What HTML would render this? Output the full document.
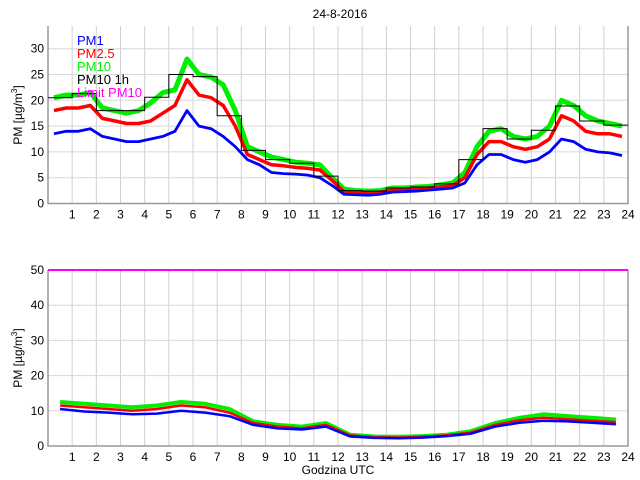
<!DOCTYPE html>
<html><head><meta charset="utf-8"><style>
body{margin:0;background:#fff;}
svg{display:block;font-family:"Liberation Sans",sans-serif;}
</style></head><body>
<svg id="c" width="640" height="480">
<text x="340" y="18" text-anchor="middle" font-size="12">24-8-2016</text>
<text transform="translate(22,115) rotate(-90)" text-anchor="middle" font-size="12">PM [µg/m<tspan dy="-5" font-size="8">3</tspan><tspan dy="5">]</tspan></text>
<text transform="translate(22,358) rotate(-90)" text-anchor="middle" font-size="12">PM [µg/m<tspan dy="-5" font-size="8">3</tspan><tspan dy="5">]</tspan></text>
<text x="338" y="474" text-anchor="middle" font-size="12">Godzina UTC</text>
<g id="top"></g><g id="bot"></g>
<g font-size="13">
<text x="77" y="45" fill="#0000ff">PM1</text>
<text x="77" y="58" fill="#ff0000">PM2.5</text>
<text x="77" y="71" fill="#00ee00">PM10</text>
<text x="77" y="84" fill="#000">PM10 1h</text>
<text x="77" y="97" fill="#ff00ff">Limit PM10</text>
</g>
</svg>
<script>
const hourTicks=[1,2,3,4,5,6,7,8,9,10,11,12,13,14,15,16,17,18,19,20,21,22,23,24];
const topYTicks=[0,5,10,15,20,25,30];
const botYTicks=[0,10,20,30,40,50];
const topPM10=[20.5,21,21,21.5,18.5,18,17.5,18,19.5,21.5,22,28,25,24.5,23,18,11,10,9,8.5,8,7.8,7.5,5,2.8,2.5,2.4,2.5,3,3,3.2,3.3,3.6,4,6,11,14,14.5,13,12.5,13,15,20,19,17,16,15.5,15];
const topPM25=[18,18.5,18.5,19,16.5,16,15.5,15.5,16,17.5,19,24,21,20.5,19,15,9.5,8.5,7.5,7.3,7,6.8,6.5,4.5,2.3,2.2,2,2.2,2.6,2.7,2.8,3,3.2,3.5,5,9.5,12,12,11,10.5,11,12.5,17,16,14,13.5,13.5,13];
const topPM1=[13.5,14,14,14.5,13,12.5,12,12,12.5,13,14,18,15,14.5,13,11,8.5,7.5,6,5.8,5.7,5.5,5,3.5,1.8,1.7,1.6,1.8,2.2,2.3,2.4,2.6,2.8,3,4,7.5,9.5,9.5,8.5,8,8.5,10,12.5,12,10.5,10,9.8,9.3];
const pm10Hourly=[20.5,21.3,18,18,20.6,25,24.6,17,10.3,8.5,7.8,5.3,2.5,2.4,3,3.2,3.8,8.5,14.5,12.5,14.2,18.9,16,15.2];
const botPM10=[12.5,12,11.5,11,11.5,12.5,12,10.5,7,6,5.5,6.5,3.2,2.7,2.6,2.8,3.2,4.2,6.5,8,9,8.5,8,7.5];
const botPM25=[11.5,11,10.5,10,10.5,11.5,11,9.5,6.5,5.5,5,6,3,2.5,2.4,2.6,3,3.8,6,7.3,8,7.6,7.2,6.8];
const botPM1=[10.5,9.8,9.5,9,9.2,10,9.5,8.5,6,5,4.7,5.5,2.7,2.3,2.2,2.4,2.8,3.5,5.5,6.6,7.2,7,6.6,6.2];
const limitPM10=[50];
const NS="http://www.w3.org/2000/svg";
const X0=48,X1=628;
const xs=h=>X0+(X1-X0)*h/24;
function mk(p,t,a){const e=document.createElementNS(NS,t);for(const k in a)e.setAttribute(k,a[k]);p.appendChild(e);return e;}
function panel(g,top,bottom,ymax,yt){
  const ys=v=>bottom-(bottom-top)*v/ymax;
  for(const h of hourTicks){
    const l=mk(g,'line',{x1:xs(h),x2:xs(h),y1:top,y2:bottom,stroke:'#d0d0d0'});
    
    
    const t=mk(g,'text',{x:xs(h),y:bottom+15,'text-anchor':'middle','font-size':12});
    t.textContent=h;
    
    
  }
  for(const v of yt){
    if(v>0){const l=mk(g,'line',{x1:X0,x2:X1,y1:ys(v),y2:ys(v),stroke:'#d8d8d8'});
    
    }
    const t=mk(g,'text',{x:X0-4,y:ys(v)+4,'text-anchor':'end','font-size':12});
    t.textContent=v;
    
    
  }
  mk(g,'path',{d:`M${X0},${top}V${bottom}H${X1}V${top}`,fill:'none',stroke:'#999','stroke-width':1.5});
  return ys;
}
function series(g,arr,ys,color,name,w){
  const n=arr.length;
  const pts=arr.map((v,i)=>xs((i+0.5)*24/n).toFixed(1)+','+ys(v).toFixed(1)).join(' ');
  const p=mk(g,'polyline',{points:pts,fill:'none',stroke:color,'stroke-width':w,'stroke-linejoin':'round'});
  
  
}
const gt=document.getElementById('top');
const ysT=panel(gt,26,203.5,34.4,topYTicks);
series(gt,topPM10,ysT,'#00ee00','pm10-line',5);
series(gt,topPM25,ysT,'#ff0000','pm25-line',3.5);
series(gt,topPM1,ysT,'#0000ff','pm1-line',2.8);
let d='';
pm10Hourly.forEach((v,i)=>{d+=(i?'L':'M')+xs(i)+','+ysT(v)+'H'+xs(i+1);});
const st=mk(gt,'path',{d:d,fill:'none',stroke:'#000','stroke-width':1});


const gb=document.getElementById('bot');
const ysB=panel(gb,270,446,50,botYTicks);
series(gb,botPM10,ysB,'#00ee00','bottom-pm10-line',4);
series(gb,botPM25,ysB,'#ff0000','bottom-pm25-line',2.5);
series(gb,botPM1,ysB,'#0000ff','bottom-pm1-line',2.5);
const lim=mk(gb,'line',{x1:X0,x2:X1,y1:ysB(limitPM10[0]),y2:ysB(limitPM10[0]),stroke:'#ff00ff','stroke-width':2});


</script>
</body></html>
